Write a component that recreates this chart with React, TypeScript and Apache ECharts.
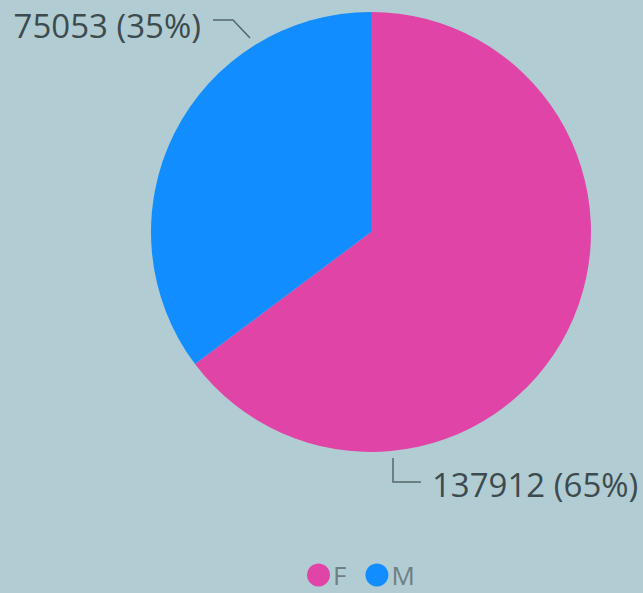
import React, { useEffect, useRef } from "react";
import * as echarts from "echarts";

const categories = ["F", "M"];
const values = [137912, 75053];
const percents = ["65%", "35%"];
const colors = ["#e044a7", "#118dff"];

export default function App() {
  const ref = useRef<HTMLDivElement>(null);
  useEffect(() => {
    if (!ref.current) return;
    const chart = echarts.init(ref.current, null, { renderer: "svg" });
    const font = "'Segoe UI', 'Open Sans', 'Noto Sans', sans-serif";
    chart.setOption({
      animation: false,
      backgroundColor: "#b1cdd3",
      legend: {
        top: 562,
        left: 307,
        padding: 0,
        icon: "circle",
        itemWidth: 23,
        itemHeight: 23,
        itemGap: 19,
        data: categories,
        textStyle: {
          color: "#6f7e82",
          fontSize: 26,
          lineHeight: 26,
          fontFamily: font,
          padding: [0, 0, 0, -2],
        },
      },
      series: [
        {
          type: "pie",
          center: [371, 232],
          radius: 220,
          startAngle: 90,
          clockwise: true,
          data: categories.map((c, i) => ({
            name: c,
            value: values[i],
            itemStyle: { color: colors[i] },
          })),
          label: {
            show: true,
            position: "outside",
            overflow: "none",
            formatter: (p: any) => `${p.value} (${percents[p.dataIndex]})`,
            color: "#3d4a4e",
            fontSize: 33,
            fontFamily: font,
          },
          labelLine: {
            show: true,
            lineStyle: { color: "#56666a", width: 1.5 },
          },
          labelLayout: (p: any) =>
            p.dataIndex === 1
              ? {
                  x: 201,
                  y: 25,
                  align: "right",
                  verticalAlign: "middle",
                  labelLinePoints: [
                    [250, 38],
                    [233, 20],
                    [213, 20],
                  ],
                }
              : {
                  x: 432,
                  y: 484,
                  align: "left",
                  verticalAlign: "middle",
                  labelLinePoints: [
                    [393, 458],
                    [393, 482],
                    [421, 482],
                  ],
                },
        },
      ],
    });
    return () => chart.dispose();
  }, []);
  return (
    <div
      ref={ref}
      style={{ position: "fixed", left: 0, top: 0, width: 643, height: 593 }}
    />
  );
}
